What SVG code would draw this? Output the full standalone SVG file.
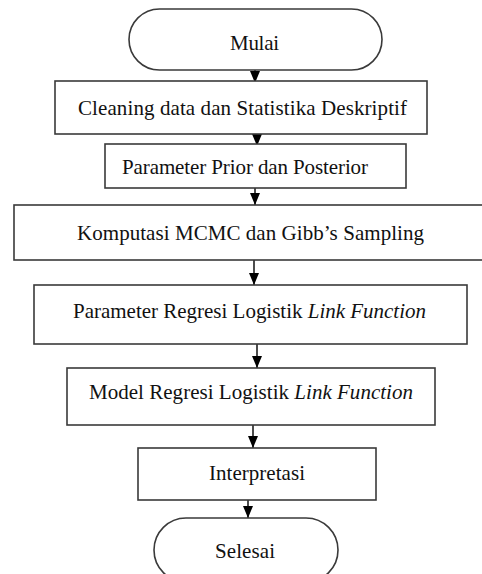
<svg xmlns="http://www.w3.org/2000/svg" width="482" height="574" viewBox="0 0 482 574">
<defs>
<marker id="ah" viewBox="0 0 12 10" refX="12" refY="5" markerWidth="12" markerHeight="10" markerUnits="userSpaceOnUse" orient="auto">
<path d="M0,0 L12,5 L0,10 z" fill="#000"/>
</marker>
</defs>
<style>
.box{fill:#fff;stroke:#3a3a3a;stroke-width:1.6}
.t{font-family:"Liberation Serif","Times New Roman",serif;font-size:21px;fill:#111}
.i{font-style:italic}
.c{stroke:#000;stroke-width:1.4;fill:none}
</style>
<rect width="482" height="574" fill="#fff"/>
<g id="connectors">
<line class="c" x1="255" y1="70" x2="255" y2="83" marker-end="url(#ah)"/>
<line class="c" x1="257" y1="134" x2="257" y2="146" marker-end="url(#ah)"/>
<line class="c" x1="255" y1="188" x2="255" y2="205" marker-end="url(#ah)"/>
<line class="c" x1="254" y1="260" x2="254" y2="285" marker-end="url(#ah)"/>
<line class="c" x1="257" y1="344" x2="257" y2="368" marker-end="url(#ah)"/>
<line class="c" x1="253" y1="425" x2="253" y2="448" marker-end="url(#ah)"/>
<line class="c" x1="248" y1="500" x2="248" y2="518" marker-end="url(#ah)"/>
</g>
<g id="mulai">
<rect class="box" x="129" y="9" width="253" height="61" rx="30.5"/>
<text class="t" x="230" y="50" textLength="49" lengthAdjust="spacing">Mulai</text>
</g>
<g id="cleaning">
<rect class="box" x="55" y="81" width="372" height="53"/>
<text class="t" x="78" y="115" textLength="329" lengthAdjust="spacing">Cleaning data dan Statistika Deskriptif</text>
</g>
<g id="prior">
<rect class="box" x="105" y="144" width="301" height="44"/>
<text class="t" x="122" y="174" textLength="246" lengthAdjust="spacing">Parameter Prior dan Posterior</text>
</g>
<g id="mcmc">
<rect class="box" x="14" y="205" width="472" height="55"/>
<text class="t" x="77" y="240" textLength="347" lengthAdjust="spacing">Komputasi MCMC dan Gibb’s Sampling</text>
</g>
<g id="param">
<rect class="box" x="34" y="285" width="433" height="59"/>
<text class="t" x="73" y="318" textLength="353" lengthAdjust="spacing">Parameter Regresi Logistik <tspan class="i">Link Function</tspan></text>
</g>
<g id="model">
<rect class="box" x="67" y="368" width="368" height="57"/>
<text class="t" x="89" y="399" textLength="324" lengthAdjust="spacing">Model Regresi Logistik <tspan class="i">Link Function</tspan></text>
</g>
<g id="interpretasi">
<rect class="box" x="138" y="448" width="238" height="52"/>
<text class="t" x="209" y="480" textLength="96" lengthAdjust="spacing">Interpretasi</text>
</g>
<g id="selesai">
<rect class="box" x="154" y="518" width="184" height="64" rx="32"/>
<text class="t" x="215" y="558" textLength="60" lengthAdjust="spacing">Selesai</text>
</g>
</svg>
